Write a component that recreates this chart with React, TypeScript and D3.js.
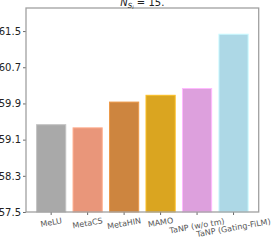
import React, { useEffect, useRef } from 'react';
import * as d3 from 'd3';

const models = ['MeLU', 'MetaCS', 'MetaHIN', 'MAMO', 'TaNP (w/o tm)', 'TaNP (Gating-FiLM)'];
const scores = [59.43, 59.36, 59.93, 60.08, 60.23, 61.43];
const barColors = ['#a9a9a9', '#e9967a', '#cd853f', '#daa520', '#dda0dd', '#add8e6'];
const yTicks = [57.5, 58.3, 59.1, 59.9, 60.7, 61.5];

const W = 273;
const H = 240;
const margin = { top: 8, right: 14.3, bottom: 28, left: 26 };

export default function App() {
  const ref = useRef<SVGSVGElement>(null);

  useEffect(() => {
    document.body.style.margin = '0';
    const svg = d3.select(ref.current);
    svg.selectAll('*').remove();

    const width = W - margin.left - margin.right;
    const height = H - margin.top - margin.bottom;

    const x = d3.scaleBand().domain(models).range([0, width]).paddingInner(0.2).paddingOuter(0.29);
    const y = d3.scaleLinear().domain([57.5, 62.01]).range([height, 0]);

    const g = svg.append('g').attr('transform', `translate(${margin.left},${margin.top})`);

    g.selectAll('.bar')
      .data(scores)
      .enter()
      .append('rect')
      .attr('class', 'bar')
      .attr('x', (d, i) => x(models[i]))
      .attr('y', (d) => y(d))
      .attr('width', x.bandwidth())
      .attr('height', (d) => height - y(d))
      .attr('fill', (d, i) => barColors[i])
      .attr('stroke', (d, i) => d3.color(barColors[i]).brighter(0.4).toString())
      .attr('stroke-width', 1);

    // y axis
    const yAxis = g.append('g').call(d3.axisLeft(y).tickValues(yTicks).tickFormat(d3.format('.1f')).tickSize(3).tickPadding(2));
    yAxis.select('.domain').remove();
    yAxis.selectAll('line').attr('stroke', '#444').attr('stroke-width', 0.8);
    yAxis.selectAll('text')
      .attr('font-family', 'DejaVu Sans')
      .attr('font-size', 10)
      .attr('fill', '#222');

    // x axis
    const xAxis = g.append('g').attr('transform', `translate(0,${height})`)
      .call(d3.axisBottom(x).tickSize(3).tickFormat(() => ''));
    xAxis.select('.domain').remove();
    xAxis.selectAll('line').attr('stroke', '#444').attr('stroke-width', 0.8);

    const fs = 8;
    const theta = 10;
    const rad = (theta * Math.PI) / 180;
    g.selectAll('.xlabel')
      .data(models)
      .enter()
      .append('text')
      .attr('class', 'xlabel')
      .attr('font-family', 'DejaVu Sans')
      .attr('font-size', fs)
      .attr('fill', '#555')
      .attr('text-anchor', 'middle')
      .attr('dominant-baseline', 'central')
      .attr('transform', (d) => {
        const w = d.length * 0.56 * fs;
        const h = w * Math.sin(rad) + fs * 0.9 * Math.cos(rad);
        const cx = x(d) + x.bandwidth() / 2;
        const cy = height + 5.5 + h / 2;
        return `translate(${cx},${cy}) rotate(${-theta})`;
      })
      .text((d) => d);

    // spines
    g.append('rect')
      .attr('x', 0)
      .attr('y', 0)
      .attr('width', width)
      .attr('height', height)
      .attr('fill', 'none')
      .attr('stroke', '#a0a0a0')
      .attr('stroke-width', 1.3);

    // title
    const t = svg.append('text')
      .attr('x', margin.left + width / 2)
      .attr('y', 6)
      .attr('text-anchor', 'middle')
      .attr('font-family', 'DejaVu Sans')
      .attr('font-size', 10)
      .attr('fill', '#222');
    t.append('tspan').attr('font-style', 'italic').text('N');
    t.append('tspan').attr('font-style', 'italic').attr('font-size', 7).attr('dy', 1.5).text('S');
    t.append('tspan').attr('font-style', 'italic').attr('font-size', 5).attr('dy', 1).text('i');
    t.append('tspan').attr('dy', -2.5).text(' = 15.');
  }, []);

  return <svg ref={ref} width={W} height={H} style={{ position: 'absolute', left: 0, top: 0, background: '#fff' }} />;
}
